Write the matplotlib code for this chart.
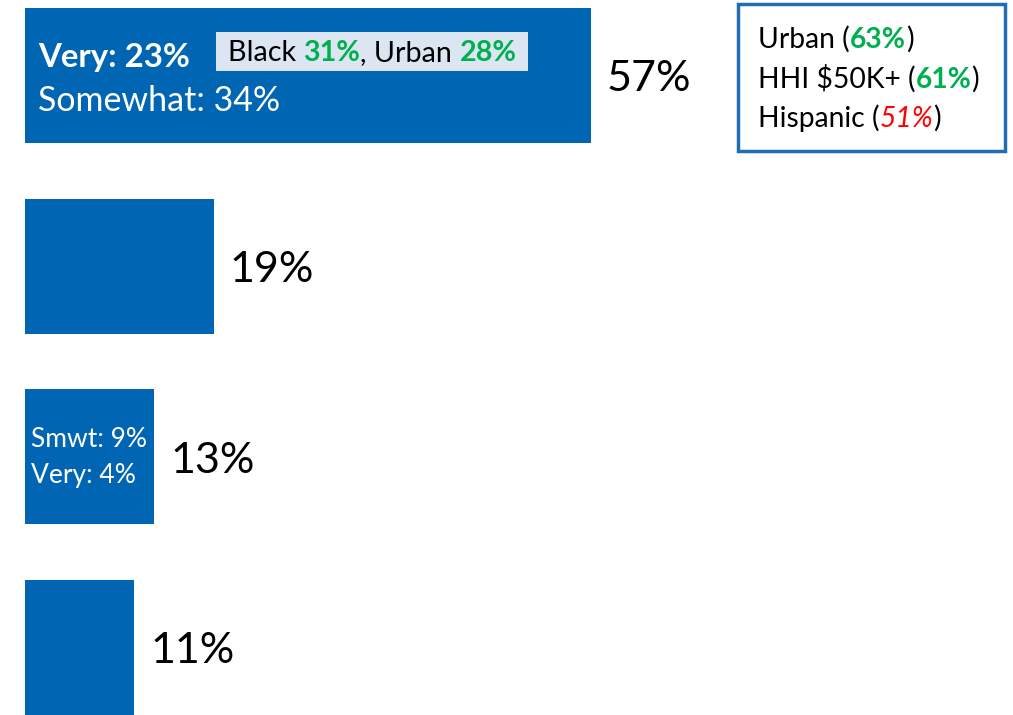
import matplotlib
matplotlib.use("Agg")
import matplotlib.pyplot as plt
from matplotlib.patches import Rectangle

# ---- data ----
categories = ["Cat A", "Cat B", "Cat C", "Cat D"]
values = [57, 19, 13, 11]
value_labels = ["57%", "19%", "13%", "11%"]
bar1_very = "Very: 23%"
bar1_somewhat = "Somewhat: 34%"
bar3_smwt = "Smwt: 9%"
bar3_very = "Very: 4%"
callout_parts = [("Black ", "black", "normal", "normal"),
                 ("31%", "#00B050", "bold", "normal"),
                 (", Urban ", "black", "normal", "normal"),
                 ("28%", "#00B050", "bold", "normal")]
box_lines = [
    [("Urban (", "black", "normal", "normal"), ("63%", "#00B050", "bold", "normal"), (")", "black", "normal", "normal")],
    [("HHI $50K+ (", "black", "normal", "normal"), ("61%", "#00B050", "bold", "normal"), (")", "black", "normal", "normal")],
    [("Hispanic (", "black", "normal", "normal"), ("51%", "#FF0000", "normal", "italic"), (")", "black", "normal", "normal")],
]

BAR_COLOR = "#0066B3"
FONT = ["Lato", "DejaVu Sans"]
W, H = 1013, 715

fig = plt.figure(figsize=(W / 100, H / 100), dpi=100)
ax = fig.add_axes([0, 0, 1, 1])
ax.set_axis_off()

ypos = list(range(len(categories)))
ax.barh(ypos, values, height=0.708, color=BAR_COLOR, edgecolor="none")
ax.set_xlim(-2.52, 99.5)
ax.set_ylim(3.353, -0.396)

for y, v, lab in zip(ypos, values, value_labels):
    ax.text(v + 1.6, y + 0.02, lab, fontsize=31, family=FONT, color="black",
            ha="left", va="center")


def P(x, y):
    return (x / W, 1 - y / H)


def multicolor(parts, x, y, size):
    prev = None
    for txt, col, wt, st in parts:
        if prev is None:
            prev = ax.text(*P(x, y), txt, transform=ax.transAxes, fontsize=size,
                           family=FONT, color=col, fontweight=wt, fontstyle=st,
                           ha="left", va="baseline")
        else:
            prev = ax.annotate(txt, xy=(1, 0), xycoords=prev, fontsize=size,
                               family=FONT, color=col, fontweight=wt, fontstyle=st,
                               ha="left", va="bottom")
    return prev


# bar 1 inner labels
ax.text(*P(38, 67), bar1_very, transform=ax.transAxes, fontsize=23.8, family=FONT,
        color="white", fontweight="bold", ha="left", va="baseline")
ax.text(*P(38, 111), bar1_somewhat, transform=ax.transAxes, fontsize=24.5, family=FONT,
        color="white", ha="left", va="baseline")

# callout in bar 1
x0, y0 = P(216, 71)
x1, y1 = P(528, 32)
ax.add_patch(Rectangle((x0, y0), x1 - x0, y1 - y0, transform=ax.transAxes,
                       facecolor="#DCE6F2", edgecolor="none"))
multicolor(callout_parts, 228, 61, 20.7)

# bar 3 inner labels
ax.text(*P(31, 447), bar3_smwt, transform=ax.transAxes, fontsize=19, family=FONT,
        color="white", ha="left", va="baseline")
ax.text(*P(31, 483), bar3_very, transform=ax.transAxes, fontsize=19, family=FONT,
        color="white", ha="left", va="baseline")

# right box
bx0, by0 = P(738, 151)
bx1, by1 = P(1005, 4)
ax.add_patch(Rectangle((bx0, by0), bx1 - bx0, by1 - by0, transform=ax.transAxes,
                       facecolor="white", edgecolor="#1F6DB5", linewidth=2.5))
for line, yb in zip(box_lines, [48, 88, 127]):
    multicolor(line, 758, yb, 20.3)

fig.savefig("out.png", dpi=100)
